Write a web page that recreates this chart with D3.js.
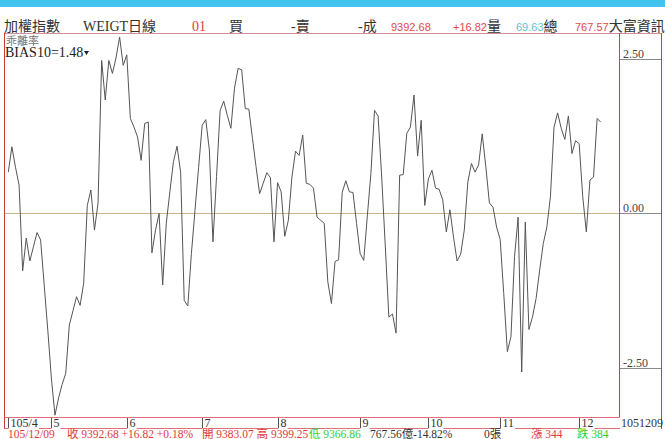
<!DOCTYPE html>
<html><head><meta charset="utf-8">
<script src="https://cdn.jsdelivr.net/npm/d3@7/dist/d3.min.js"></script>
<style>
html,body{margin:0;padding:0;background:#fff;}
svg{display:block;}
</style></head>
<body>
<svg id="chart" width="665" height="439"></svg>
<script>
// ---- data ----
const monthLabels = ["105/4","5","6","7","8","9","10","11","12"];
const monthIndex = [0,12,33,54,75,98,117,137,159];
const yTickValues = [2.5, 0, -2.5];
const yTickLabels = ["2.50","0.00","-2.50"];
const bias10 = [
  0.67,1.08,0.75,0.46,-0.93,-0.40,-0.77,-0.54,-0.31,-0.43,
  -1.16,-1.89,-2.67,-3.27,-2.99,-2.77,-2.59,-1.81,-1.58,-1.35,
  -1.49,-1.13,0.13,0.38,-0.27,0.17,2.48,1.84,2.48,2.27,
  2.52,2.86,2.40,2.57,1.54,1.40,1.24,0.86,1.46,1.48,
  -0.64,-0.27,0.00,-1.16,-0.16,0.35,0.84,1.09,0.67,-1.41,
  -1.50,-0.65,0.05,0.74,1.43,1.52,1.03,-0.46,0.60,1.67,
  1.82,1.59,1.38,2.03,2.35,2.33,1.70,1.69,1.22,0.76,
  0.32,0.49,0.66,0.58,-0.46,0.50,0.35,-0.37,-0.11,0.59,
  1.01,0.94,1.27,0.49,0.47,0.41,-0.06,-0.11,-0.16,-1.11,
  -1.46,-0.78,-0.75,0.34,0.53,0.35,0.34,-0.16,-0.65,-0.76,
  -0.04,0.65,1.67,1.58,0.59,-0.53,-1.68,-1.63,-1.94,0.62,
  0.63,1.30,1.40,1.92,0.93,1.51,0.13,0.56,0.70,0.41,
  0.39,0.22,-0.30,0.06,-0.38,-0.77,-0.66,-0.27,0.51,0.81,
  0.67,0.79,1.29,0.76,0.17,0.10,-0.22,-0.42,-1.30,-2.24,
  -2.00,-0.70,-0.06,-2.57,-0.14,-1.88,-1.68,-1.38,-0.92,-0.49,
  -0.22,0.27,1.40,1.63,1.38,1.20,1.58,0.97,1.18,1.13,
  0.27,-0.30,0.54,0.59,1.54,1.48
];
// header: groups of [text, colour, font] pieces drawn one after another from x
const headerGroups = [
  {x:4,   parts:[["加權指數","#333","cjk"]]},
  {x:83,  parts:[["WEIGT","#333","serif"],["日線","#333","cjk"]]},
  {x:192, parts:[["01","#e03a3a","serif"]]},
  {x:229, parts:[["買","#333","cjk"]]},
  {x:291, parts:[["-","#333","serif"],["賣","#333","cjk"]]},
  {x:358, parts:[["-","#333","serif"],["成","#333","cjk"]]},
  {x:391, parts:[["9392.68","#e04848","sans"]]},
  {x:453, parts:[["+16.82","#e04848","sans"],["量","#333","cjk"]]},
  {x:516, parts:[["69.63","#5cc6cc","sans"],["總","#333","cjk"]]},
  {x:575, parts:[["767.57","#e04848","sans"],["大富資訊","#333","cjk"]]}
];
const footerItems = [
  {t:"105/12/09", x:8, c:"#e03a3a"},
  {t:"收 9392.68 +16.82 +0.18%", x:67, c:"#e03a3a"},
  {t:"開 9383.07 高 9399.25", x:202, c:"#e03a3a"},
  {t:"低 9366.86", x:309, c:"#33cc33"},
  {t:"767.56億-14.82%", x:370, c:"#333"},
  {t:"0張", x:484, c:"#333"},
  {t:"漲 344", x:531, c:"#e03a3a"},
  {t:"跌 384", x:577, c:"#33cc33"}
];
const lastDateLabel = "1051209";
const indicatorTitle = "乖離率";
const indicatorLabel = "BIAS10=1.48";

// ---- drawing ----
const svg = d3.select("#chart");
const SERIF = "'Liberation Serif','Noto Sans CJK TC',serif";
const SANS = "'Liberation Sans',Arial,sans-serif";
const CJK = "'Noto Sans CJK TC','Liberation Serif',serif";
const fontFor = f => f==="sans"?SANS:(f==="cjk"?CJK:SERIF);
const sizeFor = f => f==="sans"?"11px":(f==="cjk"?"14px":"14px");

const plotL = 4.5, plotR = 619.5, plotT = 33.5, plotB = 417.5;
const x = d3.scaleLinear().domain([0, bias10.length-1]).range([8.3, 600.7]);
const y = d3.scaleLinear().domain([-2.5, 2.5]).range([367.7, 59.2]);

// top blue band
svg.append("rect").attr("x",0).attr("y",0).attr("width",665).attr("height",7).attr("fill","#43c4ee");

// header texts
const hg = svg.append("g");
headerGroups.forEach(g=>{
  let cx = g.x;
  g.parts.forEach(p=>{
    const t = hg.append("text").attr("x",cx).attr("y",31).attr("fill",p[1])
      .style("font-family",fontFor(p[2])).style("font-size",sizeFor(p[2])).text(p[0]);
    cx += t.node().getComputedTextLength();
  });
});

// frame lines
const frame = svg.append("g").attr("fill","none");
frame.append("line").attr("x1",4).attr("x2",662).attr("y1",33.5).attr("y2",33.5).attr("stroke","#cf8f97");
frame.append("line").attr("x1",plotL).attr("x2",plotL).attr("y1",33).attr("y2",429).attr("stroke","#c83c3c");
frame.append("line").attr("x1",plotR).attr("x2",plotR).attr("y1",33).attr("y2",plotB).attr("stroke","#d23c46");
frame.append("line").attr("x1",661.5).attr("x2",661.5).attr("y1",33).attr("y2",429).attr("stroke","#d23c46");
frame.append("line").attr("x1",plotL).attr("x2",plotR).attr("y1",plotB).attr("y2",plotB).attr("stroke","#e07078");
frame.append("line").attr("x1",plotL).attr("x2",620).attr("y1",428.5).attr("y2",428.5).attr("stroke","#e07078");

// clip
svg.append("clipPath").attr("id","clip").append("rect")
  .attr("x",plotL+0.5).attr("y",plotT+0.5).attr("width",plotR-plotL-1).attr("height",plotB-plotT-1);

// zero line
svg.append("line").attr("x1",plotL+0.5).attr("x2",plotR-0.5)
  .attr("y1",Math.round(y(0))+0.5).attr("y2",Math.round(y(0))+0.5)
  .attr("stroke","#c8b78e");

// right axis
const ra = svg.append("g");
yTickValues.forEach((v,i)=>{
  const yy = Math.round(y(v))+0.5;
  ra.append("line").attr("x1",620).attr("x2",661).attr("y1",yy).attr("y2",yy).attr("stroke","#8a8a8a");
  ra.append("text").attr("x",623).attr("y",yy-2).attr("fill","#444")
    .style("font-family",SERIF).style("font-size","12px").text(yTickLabels[i]);
});

// the BIAS line
const line = d3.line().x((d,i)=>x(i)).y(d=>y(d));
svg.append("path").datum(bias10).attr("clip-path","url(#clip)")
  .attr("d",line).attr("fill","none").attr("stroke","#555").attr("stroke-width",1);

// indicator labels
svg.append("text").attr("x",6).attr("y",45).attr("fill","#777")
  .style("font-family",CJK).style("font-size","11px").text(indicatorTitle);
svg.append("text").attr("x",5).attr("y",57).attr("fill","#222")
  .style("font-family",SERIF).style("font-size","14px").text(indicatorLabel);
svg.append("path").attr("d","M84,51 L89,51 L86.5,55 Z").attr("fill","#222");

// month axis
const ax = svg.append("g");
monthLabels.forEach((m,i)=>{
  const xx = Math.round(x(monthIndex[i]))+0.5;
  const g = ax.append("g");
  const t = g.append("text").attr("x",xx+2).attr("y",427).attr("fill","#333")
    .style("font-family",SERIF).style("font-size","12px").text(m);
  const w = t.node().getComputedTextLength();
  g.insert("rect","text").attr("x",xx).attr("y",418).attr("width",w+3).attr("height",12).attr("fill","#fff");
  g.append("line").attr("x1",xx).attr("x2",xx).attr("y1",418).attr("y2",428).attr("stroke","#555");
});
ax.append("text").attr("x",621).attr("y",427).attr("fill","#333")
  .style("font-family",SERIF).style("font-size","12px").text(lastDateLabel);

// footer
svg.append("g").selectAll("text").data(footerItems).join("text")
  .attr("x",d=>d.x).attr("y",438).attr("fill",d=>d.c)
  .style("font-family",SERIF).style("font-size","11.5px").text(d=>d.t);
</script>
</body></html>
